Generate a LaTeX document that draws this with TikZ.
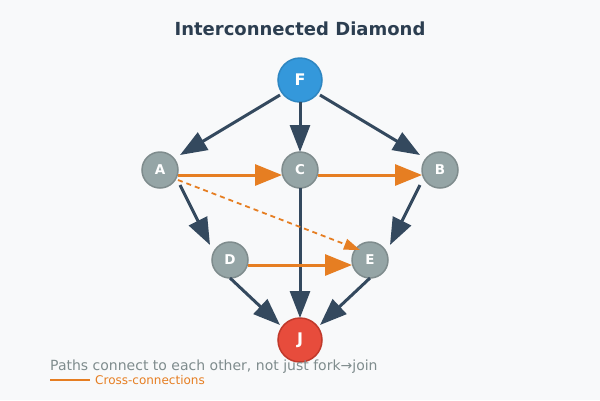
\documentclass[tikz,border=0pt]{standalone}
\usepackage{fontspec}
\setmainfont{DejaVu Sans}
\usetikzlibrary{arrows.meta,calc}
\definecolor{bg}{HTML}{F8F9FA}
\definecolor{dark}{HTML}{34495E}
\definecolor{titlec}{HTML}{2C3E50}
\definecolor{orng}{HTML}{E67E22}
\definecolor{grayf}{HTML}{95A5A6}
\definecolor{grayd}{HTML}{7F8C8D}
\definecolor{bluef}{HTML}{3498DB}
\definecolor{blued}{HTML}{2E86C1}
\definecolor{redf}{HTML}{E74C3C}
\definecolor{redd}{HTML}{C0392B}
\begin{document}
\begin{tikzpicture}[x=1pt,y=-1pt,
  mid/.style={circle,fill=grayf,draw=grayd,line width=1.5pt,minimum size=36pt,inner sep=0pt,text=white,font=\bfseries\fontsize{13.5}{15}\selectfont},
  big/.style={circle,line width=1.5pt,minimum size=44pt,inner sep=0pt,text=white,font=\bfseries\fontsize{16}{18}\selectfont},
  flow/.style={draw=dark,line width=3pt,-{Triangle[length=27pt,width=20pt]}},
  cross/.style={draw=orng,line width=3pt,-{Triangle[length=27pt,width=21pt]}},
  crossd/.style={draw=orng,line width=1.8pt,dash pattern=on 5pt off 4pt,-{Triangle[length=16pt,width=11pt]}}]
\fill[bg] (0,0) rectangle (600,400);
\useasboundingbox (0,0) rectangle (600,400);
\node[font=\bfseries\fontsize{18}{20}\selectfont,text=titlec] (title) at (300,29) {Interconnected Diamond};
\node[big,fill=bluef,draw=blued] (F) at (300,80) {F};
\node[mid] (A) at (160,170) {A};
\node[mid] (C) at (300,170) {C};
\node[mid] (B) at (440,170) {B};
\node[mid] (D) at (230,260) {D};
\node[mid] (E) at (370,260) {E};
\node[big,fill=redf,draw=redd] (J) at (300,340) {J};
\draw[flow] ($(F)+(-20,15)$) -- ($(A)+(20,-15)$);
\draw[flow] ($(F)+(0,22)$) -- ($(C)+(0,-18)$);
\draw[flow] ($(F)+(20,15)$) -- ($(B)+(-20,-15)$);
\draw[flow] ($(A)+(20,15)$) -- ($(D)+(-20,-15)$);
\draw[flow] ($(C)+(0,18)$) -- ($(J)+(0,-22)$);
\draw[flow] ($(B)+(-20,15)$) -- ($(E)+(20,-15)$);
\draw[flow] ($(D)+(0,18)$) -- ($(J)+(-20,-15)$);
\draw[flow] ($(E)+(0,18)$) -- ($(J)+(20,-15)$);
\draw[cross] ($(A)+(18,5)$) -- ($(C)+(-18,5)$);
\draw[cross] ($(C)+(18,5)$) -- ($(B)+(-18,5)$);
\draw[cross] ($(D)+(18,5)$) -- ($(E)+(-18,5)$);
\draw[crossd] ($(A)+(18,10)$) -- ($(E)+(-10,-10)$);
\node[anchor=base west,inner sep=0pt,text=grayd,font=\fontsize{14}{16}\selectfont] (note) at (50,370) {Paths connect to each other, not just fork→join};
\coordinate (l1) at (50,380);
\coordinate (l2) at (90,380);
\draw[orng,line width=2.5pt] (l1) -- (l2);
\node[anchor=west,inner sep=0pt,text=orng,font=\fontsize{12}{14}\selectfont] (leg) at (95,380.5) {Cross-connections};
\end{tikzpicture}
\end{document}
